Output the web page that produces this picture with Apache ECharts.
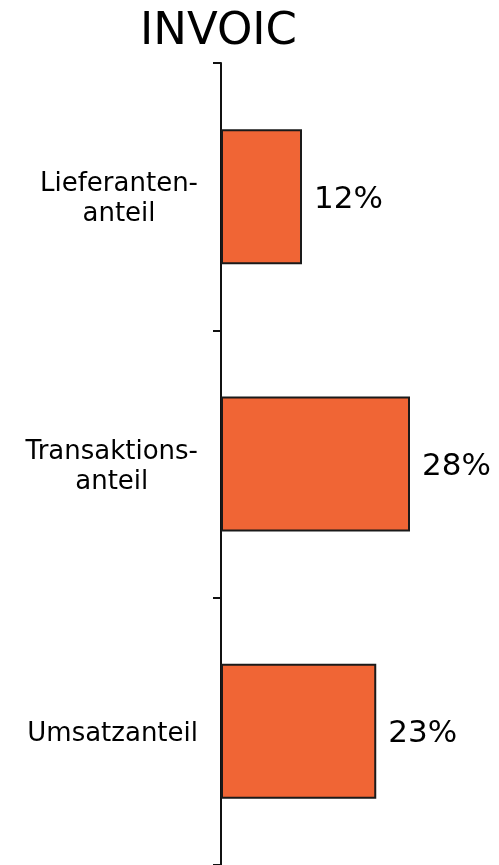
<!DOCTYPE html>
<html>
<head>
<meta charset="utf-8">
<script src="https://cdn.jsdelivr.net/npm/echarts@6/dist/echarts.min.js"></script>
<style>
  html, body { margin: 0; padding: 0; background: #fff; }
  #chart { width: 499px; height: 865px; }
</style>
</head>
<body>
<div id="chart"></div>
<script>
// chart data
const categories = ['Lieferanten-\nanteil', 'Transaktions-\nanteil', 'Umsatzanteil'];
const shares     = [12, 28, 23];
const chartTitle = 'INVOIC';

const chart = echarts.init(document.getElementById('chart'));

chart.setOption({
  animation: false,
  backgroundColor: '#ffffff',
  textStyle: { fontFamily: 'DejaVu Sans' },
  title: {
    text: chartTitle,
    left: 140,
    top: 10,
    padding: 0,
    textStyle: { color: '#000', fontFamily: 'DejaVu Sans', fontSize: 45, fontWeight: 'normal' }
  },
  grid: { left: 221, right: 8, top: 63, bottom: -4 },
  xAxis: { type: 'value', min: 0, max: 40, show: false },
  yAxis: {
    type: 'category',
    inverse: true,
    data: categories,
    axisLine: { lineStyle: { color: '#111', width: 2 } },
    axisTick: { show: true, length: 8, lineStyle: { color: '#111', width: 2 } },
    axisLabel: {
      margin: 23,
      color: '#000',
      padding: [6, 0, 0, 0],
      formatter: v => v.split('\n').map(s => '{c|' + s + '}').join('\n'),
      rich: {
        c: { align: 'center', fontFamily: 'DejaVu Sans', fontSize: 26, lineHeight: 30, color: '#000' }
      }
    }
  },
  series: [{
    type: 'bar',
    data: shares,
    barWidth: 135,
    itemStyle: { color: '#F06535', borderColor: '#1a1a1a', borderWidth: 2 },
    label: {
      show: true,
      position: 'right',
      distance: 10,
      offset: [2, 3],
      formatter: '{c}%',
      color: '#000',
      fontFamily: 'DejaVu Sans',
      fontSize: 31
    }
  }]
});
</script>
</body>
</html>
